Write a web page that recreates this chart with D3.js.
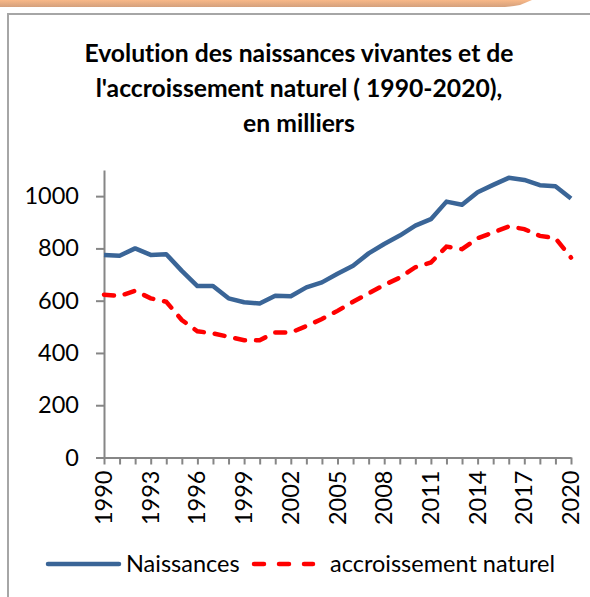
<!DOCTYPE html>
<html>
<head>
<meta charset="utf-8">
<script src="https://cdn.jsdelivr.net/npm/d3@7"></script>
<style>
  body { margin: 0; background: #fff; }
  svg { display: block; font-family: Lato, "Open Sans", sans-serif; font-variant-ligatures: none; }
</style>
</head>
<body>
<div id="chart"></div>
<script>
const years = d3.range(1990, 2021);
const naissances = [775, 772, 800, 775, 778, 714, 656, 656, 609, 594, 589, 619, 617, 651, 670, 703,
  734, 781, 817, 849, 887, 912, 979, 967, 1015, 1043, 1070, 1062, 1042, 1038, 991];
const accroissement = [623, 618, 638, 609, 596, 526, 483, 475, 462, 449, 449, 478, 478, 503, 530, 561,
  596, 628, 660, 688, 728, 746, 807, 797, 839, 861, 884, 874, 848, 839, 765];
const yTicks = [0, 200, 400, 600, 800, 1000];
const xLabelYears = d3.range(1990, 2021, 3);
const titleLines = ["Evolution des naissances vivantes et de", "l'accroissement naturel ( 1990-2020),", "en milliers"];
const seriesNames = ["Naissances", "accroissement naturel"];

const width = 590;
const height = 597;
const plot = { left: 104, right: 571, top: 170, bottom: 457.5 };
const labelSize = 23.5;

const svg = d3.select('#chart')
  .append('svg')
  .attr('width', width)
  .attr('height', height);

// orange band at the top + frame
const defs = svg.append('defs');
const grad = defs.append('linearGradient').attr('id', 'band').attr('x1', 0).attr('x2', 0).attr('y1', 0).attr('y2', 1);
grad.append('stop').attr('offset', '0%').attr('stop-color', '#f8b888');
grad.append('stop').attr('offset', '100%').attr('stop-color', '#d4a07c');
svg.append('path')
  .attr('d', 'M0,0 L532,0 L520,5 Q510,7 500,7 L0,7 Z')
  .attr('fill', 'url(#band)');

svg.append('rect')
  .attr('x', 8).attr('y', 14)
  .attr('width', 620).attr('height', 620)
  .attr('fill', 'none')
  .attr('stroke', '#a6a6a6')
  .attr('stroke-width', 2);

// title
svg.append('text')
  .attr('text-anchor', 'middle')
  .attr('font-weight', 'bold')
  .attr('font-size', 24.7)
  .attr('fill', '#000')
  .selectAll('tspan')
  .data(titleLines)
  .enter()
  .append('tspan')
  .attr('x', 299)
  .attr('y', function(d, i) { return 62 + i * 35; })
  .text(function(d) { return d; });

const x = d3.scaleLinear().domain([1990, 2020]).range([plot.left, plot.right]);
const y = d3.scaleLinear().domain([0, 1100]).range([plot.bottom, plot.top]);

// y axis
const yAxis = svg.append('g')
  .attr('transform', `translate(${plot.left},0)`)
  .call(d3.axisLeft(y).tickValues(yTicks).tickFormat(d3.format('d')).tickSize(8).tickPadding(17).tickSizeOuter(0));
yAxis.select('.domain').attr('stroke', '#868686').attr('stroke-width', 2);
yAxis.selectAll('.tick line').attr('stroke', '#868686').attr('stroke-width', 2);
yAxis.selectAll('.tick text').attr('font-size', labelSize).attr('fill', '#000').attr('font-family', 'Lato, sans-serif');

// x axis
const xAxis = svg.append('g')
  .attr('transform', `translate(0,${plot.bottom})`)
  .call(d3.axisBottom(x).tickValues(years).tickSize(7).tickSizeOuter(0).tickFormat(''));
xAxis.select('.domain').attr('stroke', '#868686').attr('stroke-width', 2);
xAxis.selectAll('.tick line').attr('stroke', '#868686').attr('stroke-width', 2);

svg.append('g')
  .selectAll('text')
  .data(xLabelYears)
  .enter()
  .append('text')
  .attr('transform', function(d) { return `translate(${x(d) + 8},${plot.bottom + 13}) rotate(-90)`; })
  .attr('text-anchor', 'end')
  .attr('font-size', labelSize)
  .attr('fill', '#000')
  .text(function(d) { return d; });

// lines
const line = function(values) {
  return d3.line()
    .x(function(d, i) { return x(years[i]); })
    .y(function(d) { return y(d); })(values);
};

svg.append('path')
  .attr('d', line(naissances))
  .attr('fill', 'none')
  .attr('stroke', '#3a6597')
  .attr('stroke-width', 4.5)
  .attr('stroke-linejoin', 'round');

svg.append('path')
  .attr('d', line(accroissement))
  .attr('fill', 'none')
  .attr('stroke', '#ff0000')
  .attr('stroke-width', 4.5)
  .attr('stroke-linecap', 'round')
  .attr('stroke-dasharray', '10,11');

// legend
const legend = svg.append('g').attr('font-size', labelSize).attr('fill', '#000');
legend.append('line')
  .attr('x1', 48).attr('x2', 119).attr('y1', 564).attr('y2', 564)
  .attr('stroke', '#3a6597').attr('stroke-width', 4.5).attr('stroke-linecap', 'round');
legend.append('text').attr('x', 126).attr('y', 572).text(seriesNames[0]);
legend.append('line')
  .attr('x1', 254).attr('x2', 313).attr('y1', 564).attr('y2', 564)
  .attr('stroke', '#ff0000').attr('stroke-width', 4.5).attr('stroke-linecap', 'round')
  .attr('stroke-dasharray', '10,15');
legend.append('text').attr('x', 330).attr('y', 572).text(seriesNames[1]);
</script>
</body>
</html>
